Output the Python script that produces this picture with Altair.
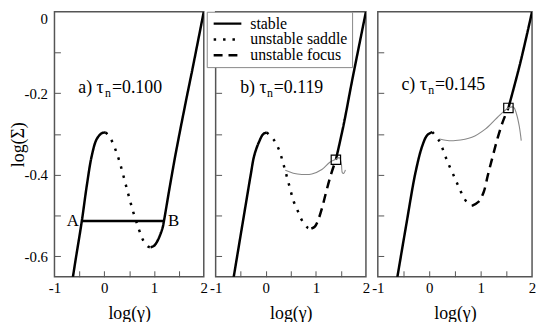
import altair as alt
import pandas as pd

SERIF = "Liberation Serif, DejaVu Serif, Times New Roman, serif"
STYLES = ["stable", "unstable saddle", "unstable focus"]
DASHES = [[1, 0], [2.5, 7], [9, 6]]

# ---------------- panel a  (tau_n = 0.100) ----------------
a_left_x = [-0.63, -0.58, -0.45, -0.35, -0.25, -0.15, -0.05, 0.03]
a_left_y = [-0.651, -0.612, -0.513, -0.426, -0.353, -0.312, -0.298, -0.296]
a_saddle_x = [0.03, 0.14, 0.28, 0.38, 0.48, 0.58, 0.70, 0.78, 0.88, 0.93]
a_saddle_y = [-0.296, -0.314, -0.357, -0.400, -0.446, -0.490, -0.535, -0.560, -0.576, -0.578]
a_right_x = [0.93, 1.00, 1.07, 1.17, 1.20, 1.31, 1.44, 1.64, 1.77, 2.00]
a_right_y = [-0.578, -0.574, -0.562, -0.531, -0.513, -0.434, -0.345, -0.220, -0.142, 0.000]
a_ab_x = [-0.45, 1.20]
a_ab_y = -0.513
a_ab_labels = ["A", "B"]

# ---------------- panel b  (tau_n = 0.119) ----------------
b_left_x = [-0.64, -0.39, -0.30, -0.23, -0.13, -0.05, 0.02]
b_left_y = [-0.651, -0.466, -0.400, -0.353, -0.318, -0.300, -0.296]
b_saddle_x = [0.02, 0.16, 0.26, 0.36, 0.46, 0.56, 0.64, 0.72, 0.84, 0.91]
b_saddle_y = [-0.296, -0.314, -0.337, -0.377, -0.422, -0.466, -0.489, -0.511, -0.530, -0.532]
b_focus_x = [0.91, 0.98, 1.04, 1.12, 1.21, 1.30, 1.40]
b_focus_y = [-0.532, -0.527, -0.513, -0.483, -0.440, -0.400, -0.363]
b_stable_x = [1.40, 1.55, 1.73, 2.00]
b_stable_y = [-0.363, -0.280, -0.165, 0.000]
b_thin_x = [0.39, 0.55, 0.72, 0.92, 1.12, 1.28, 1.40, 1.47, 1.51, 1.53, 1.56, 1.59]
b_thin_y = [-0.389, -0.396, -0.399, -0.398, -0.387, -0.369, -0.362, -0.358, -0.374, -0.395, -0.396, -0.388]
b_mark_x = [1.40]
b_mark_y = [-0.363]

# ---------------- panel c  (tau_n = 0.145) ----------------
c_left_x = [-0.62, -0.45, -0.265, -0.135, -0.04, 0.06]
c_left_y = [-0.651, -0.525, -0.393, -0.329, -0.303, -0.295]
c_saddle_x = [0.06, 0.20, 0.30, 0.38, 0.48, 0.54, 0.61, 0.69, 0.77, 0.83]
c_saddle_y = [-0.295, -0.318, -0.350, -0.375, -0.403, -0.420, -0.440, -0.460, -0.472, -0.476]
c_focus_x = [0.83, 0.96, 1.06, 1.14, 1.23, 1.33, 1.43, 1.54]
c_focus_y = [-0.476, -0.466, -0.442, -0.401, -0.357, -0.310, -0.270, -0.236]
c_stable_x = [1.54, 1.77, 2.00]
c_stable_y = [-0.236, -0.126, 0.000]
c_thin_x = [0.20, 0.35, 0.51, 0.83, 1.09, 1.32, 1.54, 1.64, 1.70, 1.75, 1.79]
c_thin_y = [-0.312, -0.316, -0.316, -0.308, -0.288, -0.260, -0.236, -0.234, -0.252, -0.280, -0.316]
c_mark_x = [1.54]
c_mark_y = [-0.236]

# panel annotations
panel_tags = ["a)", "b)", "c)"]
tau_values = ["0.100", "0.119", "0.145"]
tag_x = [-0.52, -0.51, -0.54]
tag_y = [-0.187, -0.187, -0.179]

x_ticks_major = [-1, 0, 1, 2]
x_ticks_minor = [-0.5, 0, 0.5, 1, 1.5]
y_ticks_major = [-0.6, -0.4, -0.2, 0]
y_ticks_minor = [-0.6, -0.5, -0.4, -0.3, -0.2, -0.1]

WIDTHS = [151, 152, 156]
H = 268

XS = alt.Scale(domain=[-1, 2], nice=False, zero=False)
YS = alt.Scale(domain=[-0.65, 0], nice=False, zero=False)


def branches_df(branches):
    rows = []
    for seg, (style, xs, ys) in enumerate(branches):
        for i, (x, y) in enumerate(zip(xs, ys)):
            rows.append({"seg": seg, "i": i, "style": style, "x": x, "y": y})
    return pd.DataFrame(rows)


def label_x_axis():
    return alt.Axis(values=x_ticks_major, ticks=False, domain=False, grid=False,
                    labelFlush=False, labelPadding=4, title="log(γ)", titlePadding=9,
                    labelExpr="datum.value < 0 ? '-' + format(abs(datum.value), 'd') : format(datum.value, 'd')")


def label_y_axis():
    return alt.Axis(values=y_ticks_major, ticks=False, domain=False, grid=False,
                    labelPadding=7, title="log(Σ)", titlePadding=-3, labelFlush=True,
                    labelExpr="datum.value == 0 ? '0' : '-' + format(abs(datum.value), '.1f')")


def tick_x_axis():
    return alt.Axis(orient="top", offset=-H, values=x_ticks_minor, tickSize=6, labels=False,
                    domain=False, grid=False, title=None, tickColor="#555", tickWidth=1)


def tick_y_axis(w):
    return alt.Axis(orient="right", offset=-w, values=y_ticks_minor, tickSize=6, labels=False,
                    domain=False, grid=False, title=None, tickColor="#555", tickWidth=1)


def panel(k, branches, thin=None, mark=None, ab=None, legend=False):
    w = WIDTHS[k]
    df = branches_df(branches)
    dash_legend = None
    if legend:
        dash_legend = alt.Legend(orient="none", legendX=-9, legendY=0, title=None,
                                 symbolType="M-1,0H4.6", symbolSize=100, symbolStrokeWidth=2.5,
                                 symbolStrokeColor="black", labelFont=SERIF, labelFontSize=16,
                                 labelColor="black", labelOffset=24, strokeColor="#888",
                                 fillColor="white", padding=4, rowPadding=0, labelLimit=300)
    lines = alt.Chart(df).mark_line(clip=True, strokeWidth=2.5, color="black",
                                    interpolate="catmull-rom").encode(
        x=alt.X("x:Q", scale=XS, axis=label_x_axis()),
        y=alt.Y("y:Q", scale=YS, axis=label_y_axis() if k == 0 else None),
        strokeDash=alt.StrokeDash("style:N", scale=alt.Scale(domain=STYLES, range=DASHES),
                                  legend=dash_legend),
        detail="seg:N",
        order="i:Q",
    )
    layers = [lines]
    if ab is not None:
        abx, aby, ablab = ab
        abdf = pd.DataFrame({"x": [abx[0]], "x2": [abx[1]], "y": [aby]})
        layers.append(alt.Chart(abdf).mark_rule(color="black", strokeWidth=2.5).encode(
            x=alt.X("x:Q", scale=XS, axis=None), x2="x2:Q",
            y=alt.Y("y:Q", scale=YS, axis=None)))
        ldf = pd.DataFrame({"x": abx, "y": [aby, aby], "t": ablab})
        layers.append(alt.Chart(ldf.iloc[[0]]).mark_text(font=SERIF, fontSize=17, align="right",
                                                          dx=-3, baseline="middle").encode(
            x=alt.X("x:Q", scale=XS, axis=None), y=alt.Y("y:Q", scale=YS, axis=None), text="t:N"))
        layers.append(alt.Chart(ldf.iloc[[1]]).mark_text(font=SERIF, fontSize=17, align="left",
                                                          dx=4, baseline="middle").encode(
            x=alt.X("x:Q", scale=XS, axis=None), y=alt.Y("y:Q", scale=YS, axis=None), text="t:N"))
    if thin is not None:
        tdf = pd.DataFrame({"x": thin[0], "y": thin[1], "i": list(range(len(thin[0])))})
        layers.append(alt.Chart(tdf).mark_line(color="#888", strokeWidth=1.1,
                                               interpolate="catmull-rom", clip=True).encode(
            x=alt.X("x:Q", scale=XS, axis=None), y=alt.Y("y:Q", scale=YS, axis=None), order="i:Q"))
    if mark is not None:
        mdf = pd.DataFrame({"x": mark[0], "y": mark[1]})
        layers.append(alt.Chart(mdf).mark_point(shape="square", filled=False, size=90,
                                                color="black", strokeWidth=1.2, opacity=1).encode(
            x=alt.X("x:Q", scale=XS, axis=None), y=alt.Y("y:Q", scale=YS, axis=None)))
    # panel tag  "a) τ_n=0.100"
    pdf = pd.DataFrame({"x": [tag_x[k]], "y": [tag_y[k]], "p1": [panel_tags[k] + " τ"],
                        "p2": ["n"], "p3": ["=" + tau_values[k]]})
    layers.append(alt.Chart(pdf).mark_text(font=SERIF, fontSize=18, align="left",
                                           baseline="middle").encode(
        x=alt.X("x:Q", scale=XS, axis=tick_x_axis()),
        y=alt.Y("y:Q", scale=YS, axis=tick_y_axis(w)), text="p1:N"))
    layers.append(alt.Chart(pdf).mark_text(font=SERIF, fontSize=12, align="left",
                                           baseline="middle", dx=27, dy=5).encode(
        x=alt.X("x:Q", scale=XS, axis=None), y=alt.Y("y:Q", scale=YS, axis=None), text="p2:N"))
    layers.append(alt.Chart(pdf).mark_text(font=SERIF, fontSize=18, align="left",
                                           baseline="middle", dx=34).encode(
        x=alt.X("x:Q", scale=XS, axis=None), y=alt.Y("y:Q", scale=YS, axis=None), text="p3:N"))
    return alt.layer(*layers).resolve_axis(x="independent", y="independent").properties(
        width=w, height=H)


pa = panel(0, [("stable", a_left_x, a_left_y), ("unstable saddle", a_saddle_x, a_saddle_y),
               ("stable", a_right_x, a_right_y)],
           ab=(a_ab_x, a_ab_y, a_ab_labels))
pb = panel(1, [("stable", b_left_x, b_left_y), ("unstable saddle", b_saddle_x, b_saddle_y),
               ("unstable focus", b_focus_x, b_focus_y), ("stable", b_stable_x, b_stable_y)],
           thin=(b_thin_x, b_thin_y), mark=(b_mark_x, b_mark_y), legend=True)
pc = panel(2, [("stable", c_left_x, c_left_y), ("unstable saddle", c_saddle_x, c_saddle_y),
               ("unstable focus", c_focus_x, c_focus_y), ("stable", c_stable_x, c_stable_y)],
           thin=(c_thin_x, c_thin_y), mark=(c_mark_x, c_mark_y))

chart = alt.hconcat(pa, pb, pc, spacing=12, bounds="flush").resolve_scale(
    strokeDash="independent").properties(padding=0).configure_view(
    stroke="#555", strokeWidth=1.5).configure_axis(
    grid=False, labelFont=SERIF, titleFont=SERIF, labelFontSize=15, titleFontSize=18,
    titleFontWeight="normal", labelColor="black", titleColor="black")

chart.save("out.html", embed_options={"renderer": "svg", "actions": False})
